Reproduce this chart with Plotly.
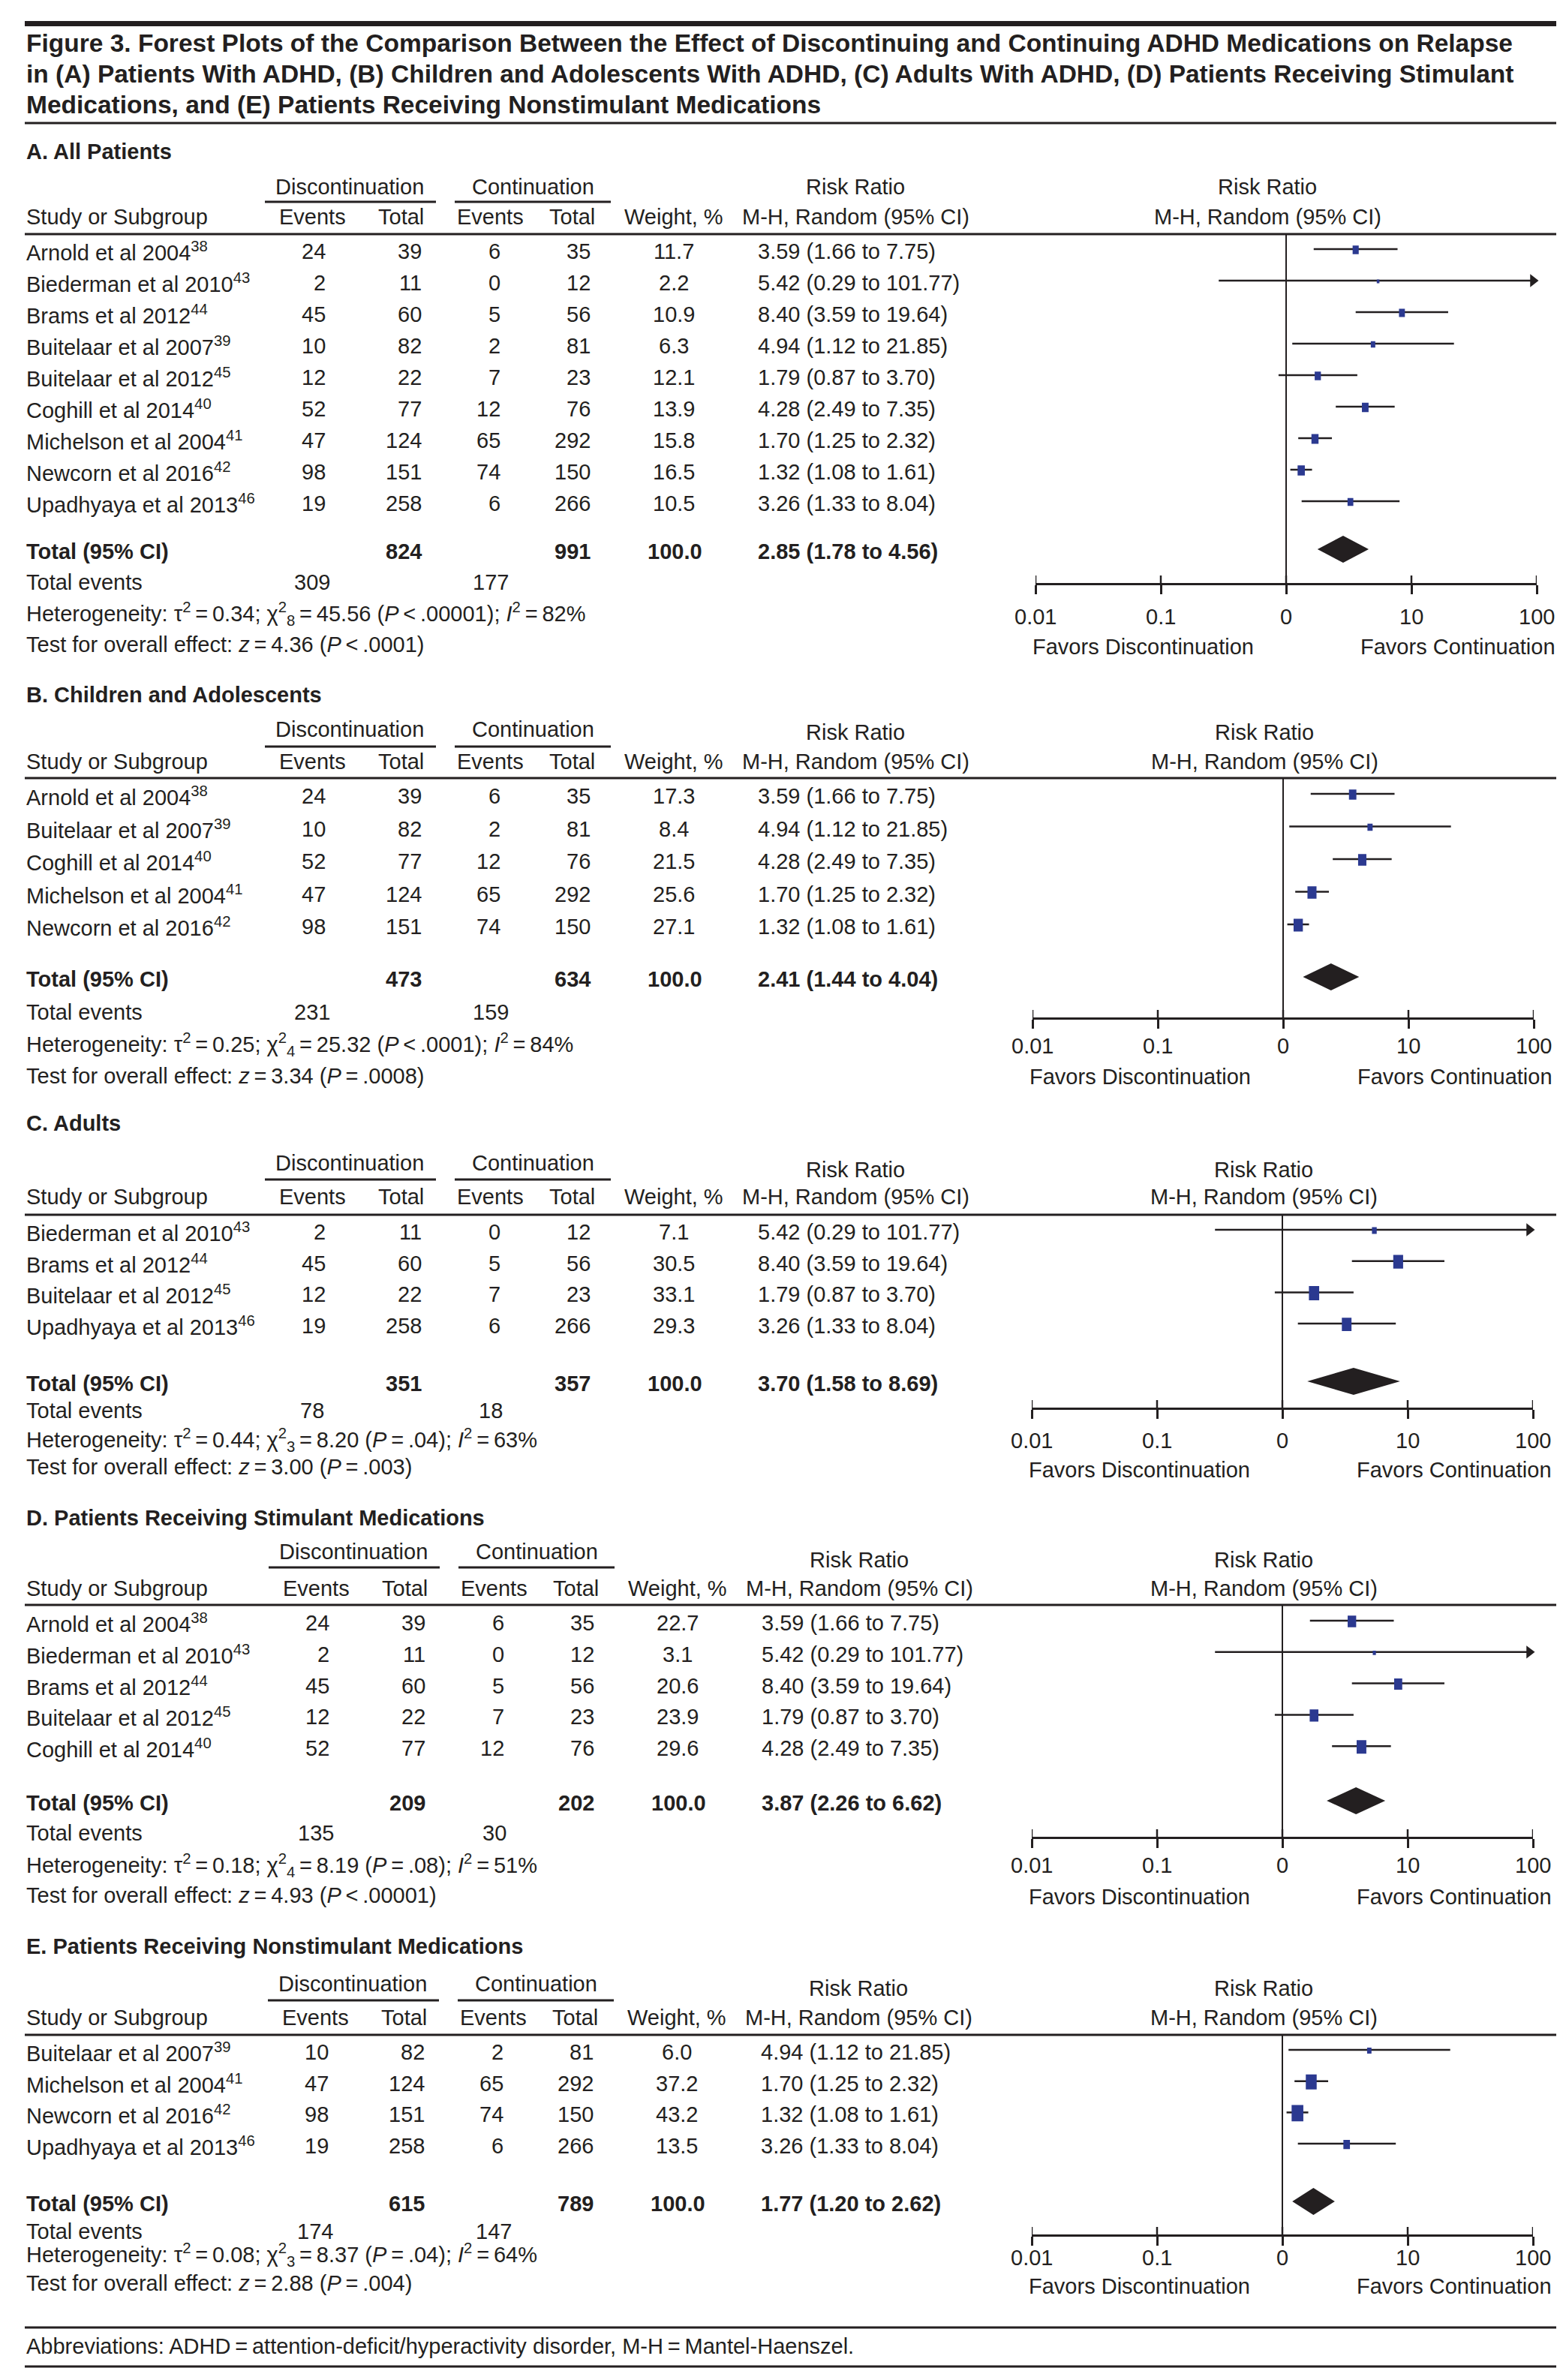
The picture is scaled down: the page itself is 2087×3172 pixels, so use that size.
import math
import plotly.graph_objects as go

W, H = 2087, 3172
FONT = "Liberation Sans, Arial, Helvetica, sans-serif"
INK = "#231f20"
BLUE = "#2b3990"
FS = 29
TS = "\u2009"
YSHIFT = -6

# ---------------- data ----------------
STUDY_NAMES = ["Arnold et al 2004", "Biederman et al 2010", "Brams et al 2012",
               "Buitelaar et al 2007", "Buitelaar et al 2012", "Coghill et al 2014",
               "Michelson et al 2004", "Newcorn et al 2016", "Upadhyaya et al 2013"]
STUDY_REFS = [38, 43, 44, 39, 45, 40, 41, 42, 46]
DISC_EVENTS = [24, 2, 45, 10, 12, 52, 47, 98, 19]
DISC_TOTAL = [39, 11, 60, 82, 22, 77, 124, 151, 258]
CONT_EVENTS = [6, 0, 5, 2, 7, 12, 65, 74, 6]
CONT_TOTAL = [35, 12, 56, 81, 23, 76, 292, 150, 266]
RR = [3.59, 5.42, 8.40, 4.94, 1.79, 4.28, 1.70, 1.32, 3.26]
RR_LOW = [1.66, 0.29, 3.59, 1.12, 0.87, 2.49, 1.25, 1.08, 1.33]
RR_HIGH = [7.75, 101.77, 19.64, 21.85, 3.70, 7.35, 2.32, 1.61, 8.04]

PANEL_TITLES = ["A. All Patients", "B. Children and Adolescents", "C. Adults",
                "D. Patients Receiving Stimulant Medications",
                "E. Patients Receiving Nonstimulant Medications"]
PANEL_STUDIES = [[0, 1, 2, 3, 4, 5, 6, 7, 8], [0, 3, 5, 6, 7], [1, 2, 4, 8],
                 [0, 1, 2, 4, 5], [3, 6, 7, 8]]
PANEL_WEIGHTS = [[11.7, 2.2, 10.9, 6.3, 12.1, 13.9, 15.8, 16.5, 10.5],
                 [17.3, 8.4, 21.5, 25.6, 27.1],
                 [7.1, 30.5, 33.1, 29.3],
                 [22.7, 3.1, 20.6, 23.9, 29.6],
                 [6.0, 37.2, 43.2, 13.5]]
TOTAL_DISC_N = [824, 473, 351, 209, 615]
TOTAL_CONT_N = [991, 634, 357, 202, 789]
TOTAL_DISC_EVENTS = [309, 231, 78, 135, 174]
TOTAL_CONT_EVENTS = [177, 159, 18, 30, 147]
TOTAL_WEIGHT = [100.0, 100.0, 100.0, 100.0, 100.0]
TOTAL_RR = [2.85, 2.41, 3.70, 3.87, 1.77]
TOTAL_LOW = [1.78, 1.44, 1.58, 2.26, 1.20]
TOTAL_HIGH = [4.56, 4.04, 8.69, 6.62, 2.62]
TAU2 = [0.34, 0.25, 0.44, 0.18, 0.08]
CHI2 = [45.56, 25.32, 8.20, 8.19, 8.37]
CHI2_DF = [8, 4, 3, 4, 3]
CHI2_P_OP = ["<", "<", "=", "=", "="]
CHI2_P = [".00001", ".0001", ".04", ".08", ".04"]
I2 = [82, 84, 63, 51, 64]
Z = [4.36, 3.34, 3.00, 4.93, 2.88]
Z_P_OP = ["<", "=", "=", "<", "="]
Z_P = [".0001", ".0008", ".003", ".00001", ".004"]
TICK_VALUES = [0.01, 0.1, 1, 10, 100]
TICK_LABELS = ["0.01", "0.1", "0", "10", "100"]

TITLE_LINES = [
    "Figure 3. Forest Plots of the Comparison Between the Effect of Discontinuing and Continuing ADHD Medications on Relapse",
    "in (A) Patients With ADHD, (B) Children and Adolescents With ADHD, (C) Adults With ADHD, (D) Patients Receiving Stimulant",
    "Medications, and (E) Patients Receiving Nonstimulant Medications",
]
ABBREV = f"Abbreviations: ADHD{TS}={TS}attention-deficit/hyperactivity disorder, M-H{TS}={TS}Mantel-Haenszel."

# ---------------- layout constants ----------------
COL = dict(study=25, dev=428, dtot=556, cev=661, ctot=781, wt=890, rr=1000, rrhdr=1132,
           disc_c=458, cont_c=702, ev1=408, ev2=646, tot1=559, tot2=787)
UL1 = (345, 573)
UL2 = (598, 806)
LINE_X = (25, 2066)
DEC = 167.0
LOG_MIN, LOG_MAX = -2, 2

PL = [
    dict(dx=0, x1=1706, label=200, group=247, rrhdr=247, uline=267, colhdr=287, hline=310,
         row0=333, step=42.0, total=733, events=774, het=816, test=857, axis=775, ticklab=820, favors=860),
    dict(dx=0, x1=1702, label=924, group=970, rrhdr=974, uline=993, colhdr=1013, hline=1035,
         row0=1059, step=43.5, total=1303, events=1347, het=1390, test=1432, axis=1354, ticklab=1392, favors=1433),
    dict(dx=0, x1=1701, label=1495, group=1548, rrhdr=1557, uline=1570, colhdr=1593, hline=1617,
         row0=1640, step=41.7, total=1842, events=1878, het=1917, test=1953, axis=1874, ticklab=1918, favors=1957),
    dict(dx=5, x1=1701, label=2021, group=2066, rrhdr=2077, uline=2087, colhdr=2115, hline=2137,
         row0=2161, step=41.8, total=2401, events=2441, het=2484, test=2524, axis=2446, ticklab=2484, favors=2526),
    dict(dx=4, x1=1701, label=2592, group=2642, rrhdr=2648, uline=2664, colhdr=2687, hline=2710,
         row0=2733, step=41.7, total=2935, events=2972, het=3003, test=3041, axis=2976, ticklab=3007, favors=3045),
]
for _L in PL:
    for _k in list(_L):
        if _k not in ("dx", "x1", "step"):
            _L[_k] += YSHIFT

annotations, shapes, traces = [], [], []


def px(x):
    return x / W


def py(y):
    return 1 - y / H


def text(x, y, s, anchor="left", size=FS, bold=False):
    if bold:
        s = f"<b>{s}</b>"
    annotations.append(dict(xref="paper", yref="paper", x=px(x), y=py(y), text=s,
                            showarrow=False, xanchor=anchor, yanchor="middle",
                            font=dict(family=FONT, size=size, color=INK)))


def rule(x0, x1, y, w=3.0):
    shapes.append(dict(type="line", xref="paper", yref="paper", x0=px(x0), x1=px(x1),
                       y0=py(y), y1=py(y), line=dict(color=INK, width=w)))


def esc(op):
    return "&lt;" if op == "<" else op


# title block
rule(LINE_X[0], LINE_X[1], 26.5 + YSHIFT / 2, 7)
for i, t in enumerate(TITLE_LINES):
    text(25, [55, 97, 137][i] + YSHIFT, t, size=33.5, bold=True)
rule(LINE_X[0], LINE_X[1], 162 + YSHIFT, 3)

layout_axes = {}
for p in range(5):
    L = PL[p]
    dx = L["dx"]
    sfx = "" if p == 0 else str(p + 1)
    xa, ya = "x" + sfx, "y" + sfx
    idx = PANEL_STUDIES[p]
    wts = PANEL_WEIGHTS[p]
    n = len(idx)
    rows = [L["row0"] + i * L["step"] for i in range(n)]

    # --- table headers ---
    text(25, L["label"], PANEL_TITLES[p], bold=True)
    text(COL["disc_c"] + dx, L["group"], "Discontinuation", anchor="center")
    text(COL["cont_c"] + dx, L["group"], "Continuation", anchor="center")
    text(COL["rrhdr"] + dx, L["rrhdr"], "Risk Ratio", anchor="center")
    text(L["x1"] - 25, L["rrhdr"], "Risk Ratio", anchor="center")
    rule(UL1[0] + dx, UL1[1] + dx, L["uline"], 3)
    rule(UL2[0] + dx, UL2[1] + dx, L["uline"], 3)
    text(25, L["colhdr"], "Study or Subgroup")
    text(COL["ev1"] + dx, L["colhdr"], "Events", anchor="center")
    text(COL["tot1"] + dx, L["colhdr"], "Total", anchor="right")
    text(COL["ev2"] + dx - 1, L["colhdr"], "Events", anchor="center")
    text(COL["tot2"] + dx, L["colhdr"], "Total", anchor="right")
    text(COL["wt"] + dx, L["colhdr"], "Weight, %", anchor="center")
    text(COL["rrhdr"] + dx, L["colhdr"], "M-H, Random (95% CI)", anchor="center")
    text(L["x1"] - 25, L["colhdr"], "M-H, Random (95% CI)", anchor="center")
    rule(LINE_X[0], LINE_X[1], L["hline"], 3)

    # --- study rows ---
    for r, (s, w) in enumerate(zip(idx, wts)):
        y = rows[r]
        text(25, y, f"{STUDY_NAMES[s]}<sup>{STUDY_REFS[s]}</sup>")
        text(COL["dev"] + dx, y, str(DISC_EVENTS[s]), anchor="right")
        text(COL["dtot"] + dx, y, str(DISC_TOTAL[s]), anchor="right")
        text(COL["cev"] + dx, y, str(CONT_EVENTS[s]), anchor="right")
        text(COL["ctot"] + dx, y, str(CONT_TOTAL[s]), anchor="right")
        text(COL["wt"] + dx, y, f"{w:.1f}", anchor="center")
        text(COL["rr"] + dx, y, f"{RR[s]:.2f} ({RR_LOW[s]:.2f} to {RR_HIGH[s]:.2f})")

    # --- totals ---
    text(25, L["total"], "Total (95% CI)", bold=True)
    text(COL["dtot"] + dx, L["total"], str(TOTAL_DISC_N[p]), anchor="right", bold=True)
    text(COL["ctot"] + dx, L["total"], str(TOTAL_CONT_N[p]), anchor="right", bold=True)
    text(COL["wt"] + dx + 1, L["total"], f"{TOTAL_WEIGHT[p]:.1f}", anchor="center", bold=True)
    text(COL["rr"] + dx, L["total"],
         f"{TOTAL_RR[p]:.2f} ({TOTAL_LOW[p]:.2f} to {TOTAL_HIGH[p]:.2f})", bold=True)
    text(25, L["events"], "Total events")
    text(COL["ev1"] + dx, L["events"], str(TOTAL_DISC_EVENTS[p]), anchor="center")
    text(COL["ev2"] + dx, L["events"], str(TOTAL_CONT_EVENTS[p]), anchor="center")
    het = (f"Heterogeneity: τ<sup>2</sup>{TS}={TS}{TAU2[p]:.2f}; "
           f"χ<sup>2</sup><sub>{CHI2_DF[p]}</sub>{TS}={TS}{CHI2[p]:.2f} "
           f"(<i>P</i>{TS}{esc(CHI2_P_OP[p])}{TS}{CHI2_P[p]}); "
           f"<i>I</i><sup>2</sup>{TS}={TS}{I2[p]}%")
    text(25, L["het"], het)
    text(25, L["test"], f"Test for overall effect: <i>z</i>{TS}={TS}{Z[p]:.2f} "
                        f"(<i>P</i>{TS}{esc(Z_P_OP[p])}{TS}{Z_P[p]})")

    # --- forest axes ---
    x0p = L["x1"] - 2 * DEC
    x1p = L["x1"] + 2 * DEC
    layout_axes["xaxis" + sfx] = dict(
        domain=[px(x0p), px(x1p)], type="log", range=[LOG_MIN, LOG_MAX], anchor=ya,
        showline=True, linewidth=3, linecolor=INK, ticks="outside", ticklen=12,
        tickwidth=2.5, tickcolor=INK, tickvals=TICK_VALUES, showticklabels=False,
        showgrid=False, zeroline=False, fixedrange=True)
    layout_axes["yaxis" + sfx] = dict(
        domain=[py(L["axis"]), py(L["hline"])], range=[L["axis"], L["hline"]],
        visible=False, anchor=xa, fixedrange=True, showgrid=False, zeroline=False)

    # upper halves of tick marks + reference line at RR = 1
    tx, ty = [], []
    for tv in TICK_VALUES:
        tx += [tv, tv, None]
        ty += [L["axis"], L["axis"] - 10, None]
    traces.append(go.Scatter(x=tx, y=ty, mode="lines", xaxis=xa, yaxis=ya,
                             line=dict(color=INK, width=2.5), hoverinfo="skip", cliponaxis=False))
    traces.append(go.Scatter(x=[1, 1], y=[L["axis"], L["hline"]], mode="lines", xaxis=xa, yaxis=ya,
                             line=dict(color=INK, width=2), hoverinfo="skip"))
    # tick labels placed through the axis scale (log axis -> log10 positions)
    for tv, tl in zip(TICK_VALUES, TICK_LABELS):
        annotations.append(dict(xref=xa, yref="paper", x=math.log10(tv), y=py(L["ticklab"]),
                                text=tl, showarrow=False, xanchor="center", yanchor="middle",
                                font=dict(family=FONT, size=FS, color=INK)))

    # CI lines
    cx, cy = [], []
    for r, s in enumerate(idx):
        cx += [RR_LOW[s], RR_HIGH[s], None]
        cy += [rows[r] - 3, rows[r] - 3, None]
    traces.append(go.Scatter(x=cx, y=cy, mode="lines", xaxis=xa, yaxis=ya,
                             line=dict(color=INK, width=2.5), hoverinfo="skip"))
    # arrows for CIs beyond the axis
    ax_, ay_ = [], []
    for r, s in enumerate(idx):
        if RR_HIGH[s] > 10 ** LOG_MAX:
            ax_.append(10 ** (LOG_MAX - 5 / DEC))
            ay_.append(rows[r] - 3)
    if ax_:
        traces.append(go.Scatter(x=ax_, y=ay_, mode="markers", xaxis=xa, yaxis=ya,
                                 marker=dict(symbol="triangle-right", size=15, color=INK,
                                             line=dict(width=0)),
                                 cliponaxis=False, hoverinfo="skip"))

    # weight boxes (area proportional to weight)
    mx, my = [], []
    for r, (s, w) in enumerate(zip(idx, wts)):
        hh = 0.5 * 3.3 * math.sqrt(w)
        hw = 0.72 * hh
        lc = math.log10(RR[s])
        xl, xr = 10 ** (lc - hw / DEC), 10 ** (lc + hw / DEC)
        yc = rows[r] - 2
        mx += [xl, xr, xr, xl, xl, None]
        my += [yc - hh, yc - hh, yc + hh, yc + hh, yc - hh, None]
    traces.append(go.Scatter(x=mx, y=my, mode="lines", fill="toself", fillcolor=BLUE,
                             line=dict(width=0, color=BLUE), xaxis=xa, yaxis=ya, hoverinfo="skip"))

    # pooled diamond
    yc = L["total"] - 3
    traces.append(go.Scatter(x=[TOTAL_LOW[p], TOTAL_RR[p], TOTAL_HIGH[p], TOTAL_RR[p], TOTAL_LOW[p]],
                             y=[yc, yc - 18, yc, yc + 18, yc], mode="lines", fill="toself",
                             fillcolor=INK, line=dict(width=0, color=INK),
                             xaxis=xa, yaxis=ya, hoverinfo="skip"))

    text(L["x1"] - 191, L["favors"], "Favors Discontinuation", anchor="center")
    text(L["x1"] + 229, L["favors"], "Favors Continuation", anchor="center")

# footer
rule(LINE_X[0], LINE_X[1], 3100 + YSHIFT, 3)
text(25, 3125 + YSHIFT, ABBREV)
rule(LINE_X[0], LINE_X[1], 3152 + YSHIFT, 3)

fig = go.Figure(traces)
fig.update_layout(width=W, height=H, margin=dict(l=0, r=0, t=0, b=0),
                  paper_bgcolor="white", plot_bgcolor="white", showlegend=False,
                  font=dict(family=FONT, color=INK, size=FS),
                  annotations=annotations, shapes=shapes, **layout_axes)
fig.write_html("out.html")
